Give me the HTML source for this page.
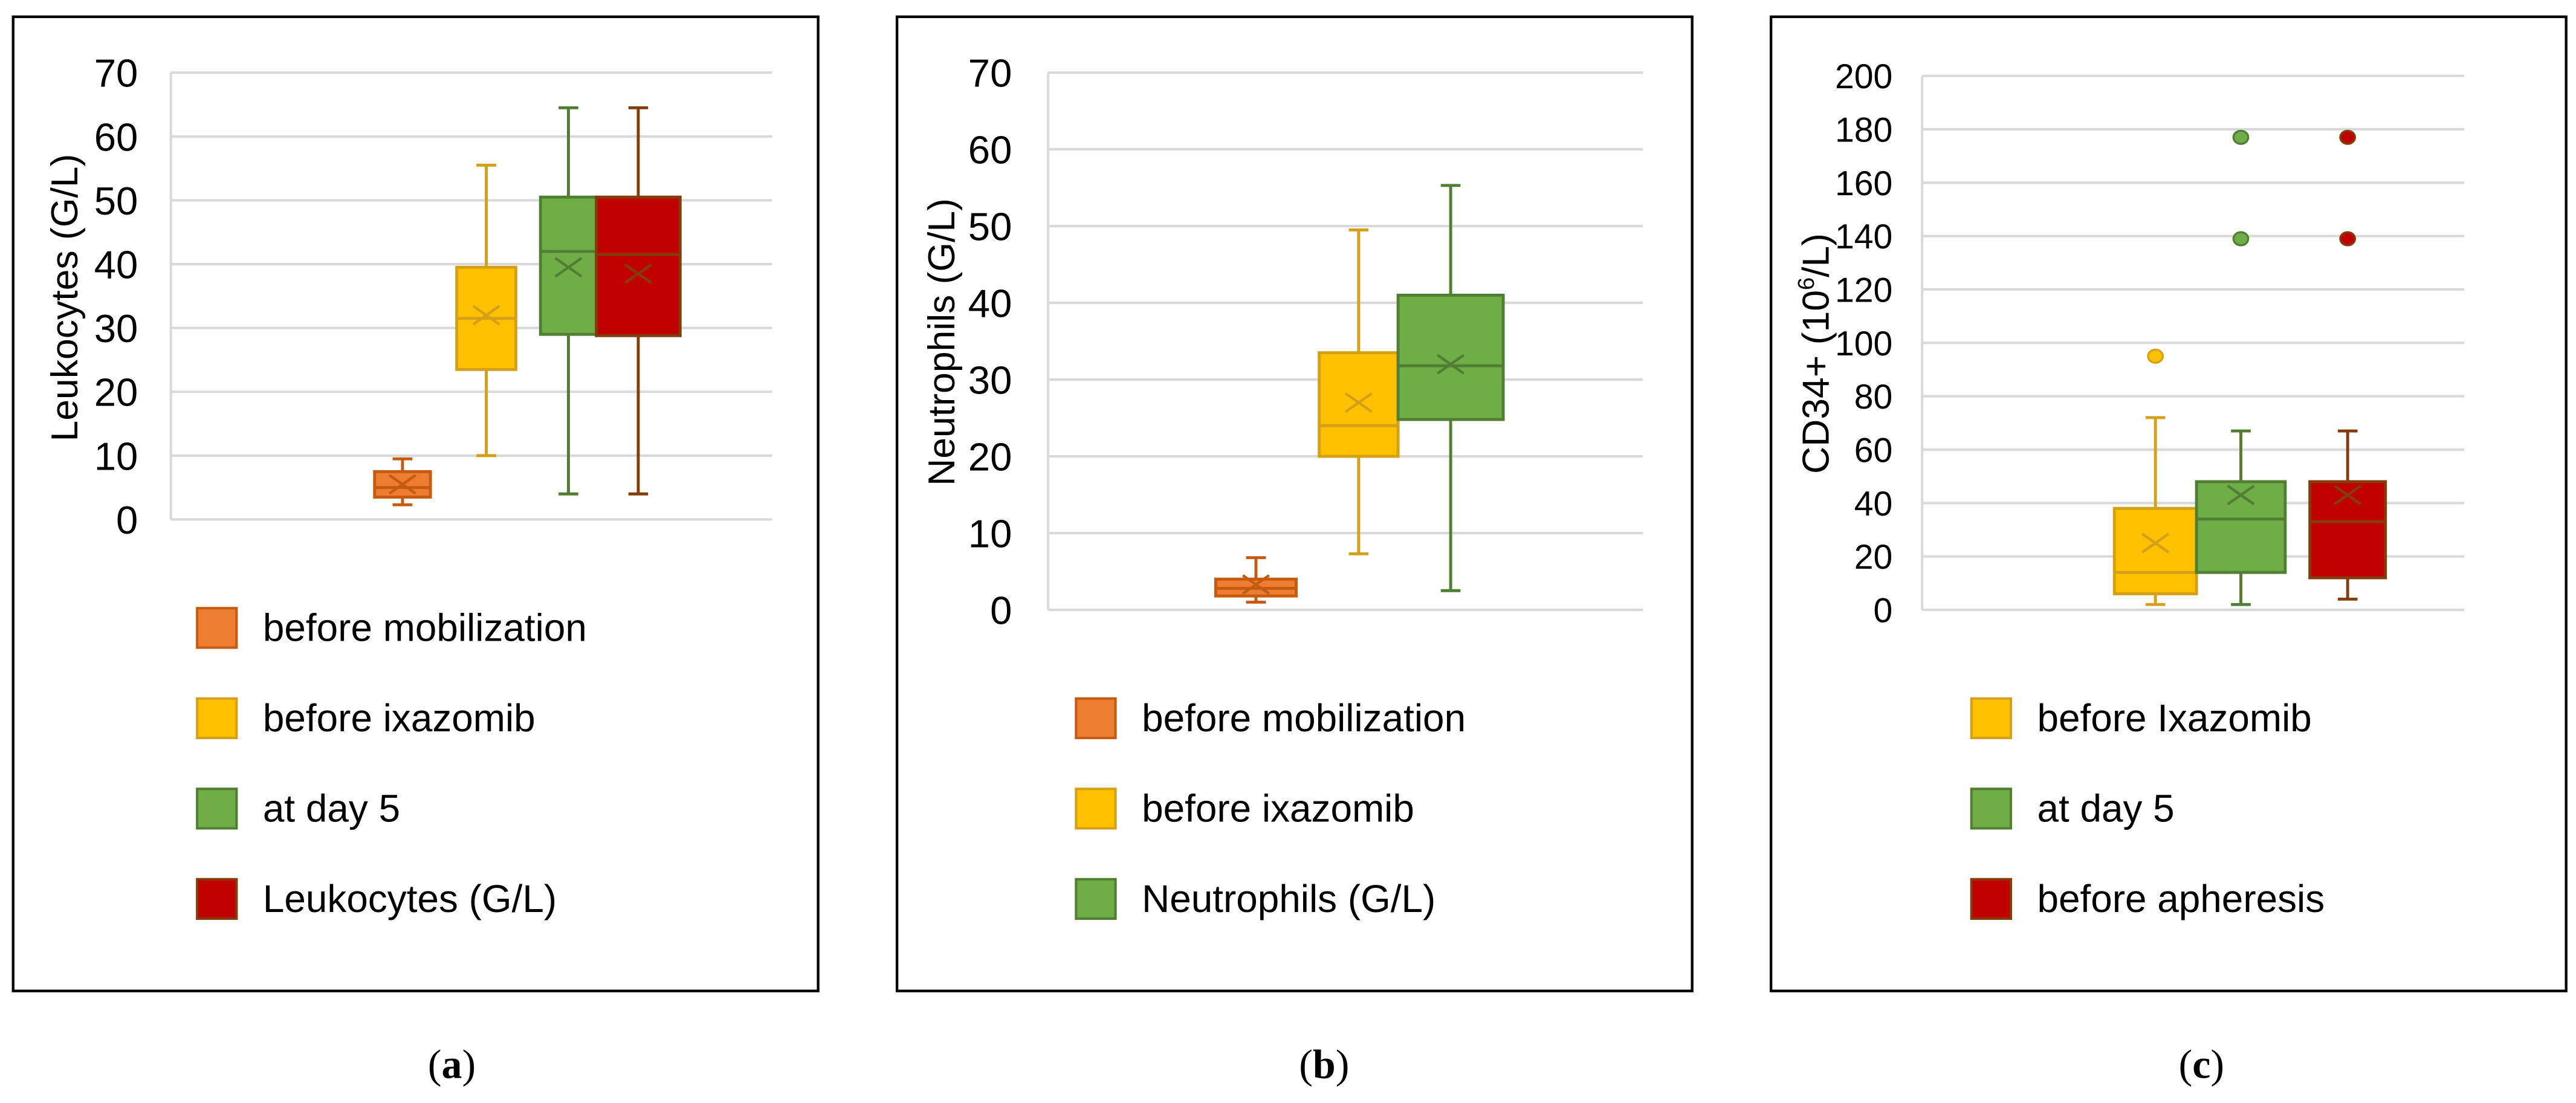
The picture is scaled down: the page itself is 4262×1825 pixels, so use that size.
<!DOCTYPE html>
<html><head><meta charset="utf-8"><style>
html,body{margin:0;padding:0;background:#fff;}
svg{display:block;font-family:"Liberation Sans",sans-serif;}
</style></head><body>
<svg id="fig" width="4262" height="1825" viewBox="0 0 1568 671" xmlns="http://www.w3.org/2000/svg"></svg>
<script>
// Panel (a) data
const aCats = ["before mobilization","before ixazomib","at day 5","Leukocytes (G/L)"];
const aMin = [2.3,10,4,4];
const aQ1 = [3.5,23.5,29,28.8];
const aMed = [5,31.5,42,41.5];
const aQ3 = [7.5,39.5,50.5,50.5];
const aMax = [9.5,55.5,64.5,64.5];
const aMean = [5.5,32,39.5,38.5];
const aTicks = [0,10,20,30,40,50,60,70];
// Panel (b) data
const bCats = ["before mobilization","before ixazomib","Neutrophils (G/L)"];
const bMin = [1,7.3,2.5];
const bQ1 = [1.8,20,24.8];
const bMed = [2.8,24,31.8];
const bQ3 = [4,33.5,41];
const bMax = [6.8,49.5,55.3];
const bMean = [3.3,27,32];
const bTicks = [0,10,20,30,40,50,60,70];
// Panel (c) data
const cCats = ["before Ixazomib","at day 5","before apheresis"];
const cMin = [2,2,4];
const cQ1 = [6,14,12];
const cMed = [14,34,33];
const cQ3 = [38,48,48];
const cMax = [72,67,67];
const cMean = [25,43,43];
const cOutliers = [[95],[139,177],[139,177]];
const cTicks = [0,20,40,60,80,100,120,140,160,180,200];

const NS="http://www.w3.org/2000/svg";
const svg=document.getElementById('fig');
const COL={orange:["#ED7D31","#C55A11"],yellow:["#FFC000","#D4A017"],green:["#70AD47","#507E32"],red:["#C00000","#843C0C"]};
function mk(tag,attrs,parent){const e=document.createElementNS(NS,tag);for(const k in attrs)e.setAttribute(k,attrs[k]);(parent||svg).appendChild(e);return e;}

function panel(cfg){
  const g=mk('g',{});
  
  
  const fr=mk('rect',{x:cfg.fx,y:10,width:cfg.fw,height:593,fill:'none',stroke:'#000','stroke-width':1.6},g);
  
  
  const y=v=>cfg.y0-(v-cfg.vmin)/(cfg.vmax-cfg.vmin)*(cfg.y0-cfg.y1);
  cfg.ticks.forEach(t=>{
    const l=mk('line',{x1:cfg.ax,x2:cfg.ax2,y1:y(t),y2:y(t),stroke:'#d9d9d9','stroke-width':1.5},g);
    
    
    const tx=mk('text',{x:cfg.tx,y:y(t)+cfg.tfs*0.36,'text-anchor':'end','font-size':cfg.tfs,fill:'#000'},g);
    tx.textContent=t;
    
    
  });
  const ya=mk('line',{x1:cfg.ax,x2:cfg.ax,y1:cfg.y1,y2:cfg.y0,stroke:'#d9d9d9','stroke-width':1.5},g);
  
  
  const tt=mk('text',{x:0,y:0,'text-anchor':'middle','font-size':23,transform:`translate(${cfg.titleX},${cfg.titleY}) rotate(-90)`},g);
  tt.innerHTML=cfg.title;
  
  
  cfg.cats.forEach((c,i)=>{
    const [fill,str]=COL[cfg.colors[i]];
    const x0=cfg.bx[i][0],x1=cfg.bx[i][1],cx=(x0+x1)/2,cap=6;
    const bg=mk('g',{},g);
    
    
    mk('line',{x1:cx,x2:cx,y1:y(cfg.max[i]),y2:y(cfg.q3[i]),stroke:str,'stroke-width':1.8},bg);
    mk('line',{x1:cx,x2:cx,y1:y(cfg.q1[i]),y2:y(cfg.min[i]),stroke:str,'stroke-width':1.8},bg);
    mk('line',{x1:cx-cap,x2:cx+cap,y1:y(cfg.max[i]),y2:y(cfg.max[i]),stroke:str,'stroke-width':1.8},bg);
    mk('line',{x1:cx-cap,x2:cx+cap,y1:y(cfg.min[i]),y2:y(cfg.min[i]),stroke:str,'stroke-width':1.8},bg);
    mk('rect',{x:x0,y:y(cfg.q3[i]),width:x1-x0,height:y(cfg.q1[i])-y(cfg.q3[i]),fill:fill,stroke:str,'stroke-width':1.8},bg);
    mk('line',{x1:x0,x2:x1,y1:y(cfg.med[i]),y2:y(cfg.med[i]),stroke:str,'stroke-width':1.8},bg);
    const my=y(cfg.mean[i]),s=8;
    mk('path',{d:`M${cx-s} ${my-s*0.7}L${cx+s} ${my+s*0.7}M${cx-s} ${my+s*0.7}L${cx+s} ${my-s*0.7}`,stroke:str,'stroke-width':1.6,fill:'none'},bg);
    if(cfg.out) cfg.out[i].forEach(o=>{
      const p=mk('ellipse',{cx:cx,cy:y(o),rx:4.5,ry:4,fill:fill,stroke:str,'stroke-width':1.2},bg);
      
      
    });
    const ly=cfg.legY[i];
    const lg=mk('g',{},g);
    
    
    mk('rect',{x:cfg.legX,y:ly-12,width:24,height:24,fill:fill,stroke:str,'stroke-width':1.5},lg);
    const lt=mk('text',{x:cfg.legX+40,y:ly+8,'font-size':23.5},lg);
    lt.textContent=c;
  });
  const cap=mk('text',{x:cfg.capX,y:656,'text-anchor':'middle','font-size':25,'font-family':'Liberation Serif, serif'},g);
  cap.innerHTML='(<tspan font-weight="bold">'+cfg.letter+'</tspan>)';
  
  
}

panel({name:'panel-a',fx:8,fw:490,ax:104,ax2:470,y0:316,y1:44,vmin:0,vmax:70,ticks:aTicks,tx:84,tfs:24,
  title:'Leukocytes (G/L)',titleX:47,titleY:181,cats:aCats,colors:['orange','yellow','green','red'],
  bx:[[228,262],[278,314],[329,363],[363,414]],min:aMin,q1:aQ1,med:aMed,q3:aQ3,max:aMax,mean:aMean,
  legX:120,legY:[382,437,492,547],capX:275,letter:'a'});
panel({name:'panel-b',fx:546,fw:484,ax:638,ax2:1000,y0:371,y1:44,vmin:0,vmax:70,ticks:bTicks,tx:616,tfs:24,
  title:'Neutrophils (G/L)',titleX:581,titleY:208,cats:bCats,colors:['orange','yellow','green'],
  bx:[[740,789],[803,851],[851,915]],min:bMin,q1:bQ1,med:bMed,q3:bQ3,max:bMax,mean:bMean,
  legX:655,legY:[437,492,547],capX:806,letter:'b'});
panel({name:'panel-c',fx:1078,fw:484,ax:1170,ax2:1500,y0:371,y1:46,vmin:0,vmax:200,ticks:cTicks,tx:1152,tfs:21,
  title:'CD34+ (10<tspan font-size="14" dy="-9">6</tspan><tspan dy="9">/L)</tspan>',titleX:1113,titleY:215,cats:cCats,colors:['yellow','green','red'],
  bx:[[1287,1337],[1337,1391],[1406,1452]],min:cMin,q1:cQ1,med:cMed,q3:cQ3,max:cMax,mean:cMean,out:cOutliers,
  legX:1200,legY:[437,492,547],capX:1340,letter:'c'});
</script>
</body></html>
